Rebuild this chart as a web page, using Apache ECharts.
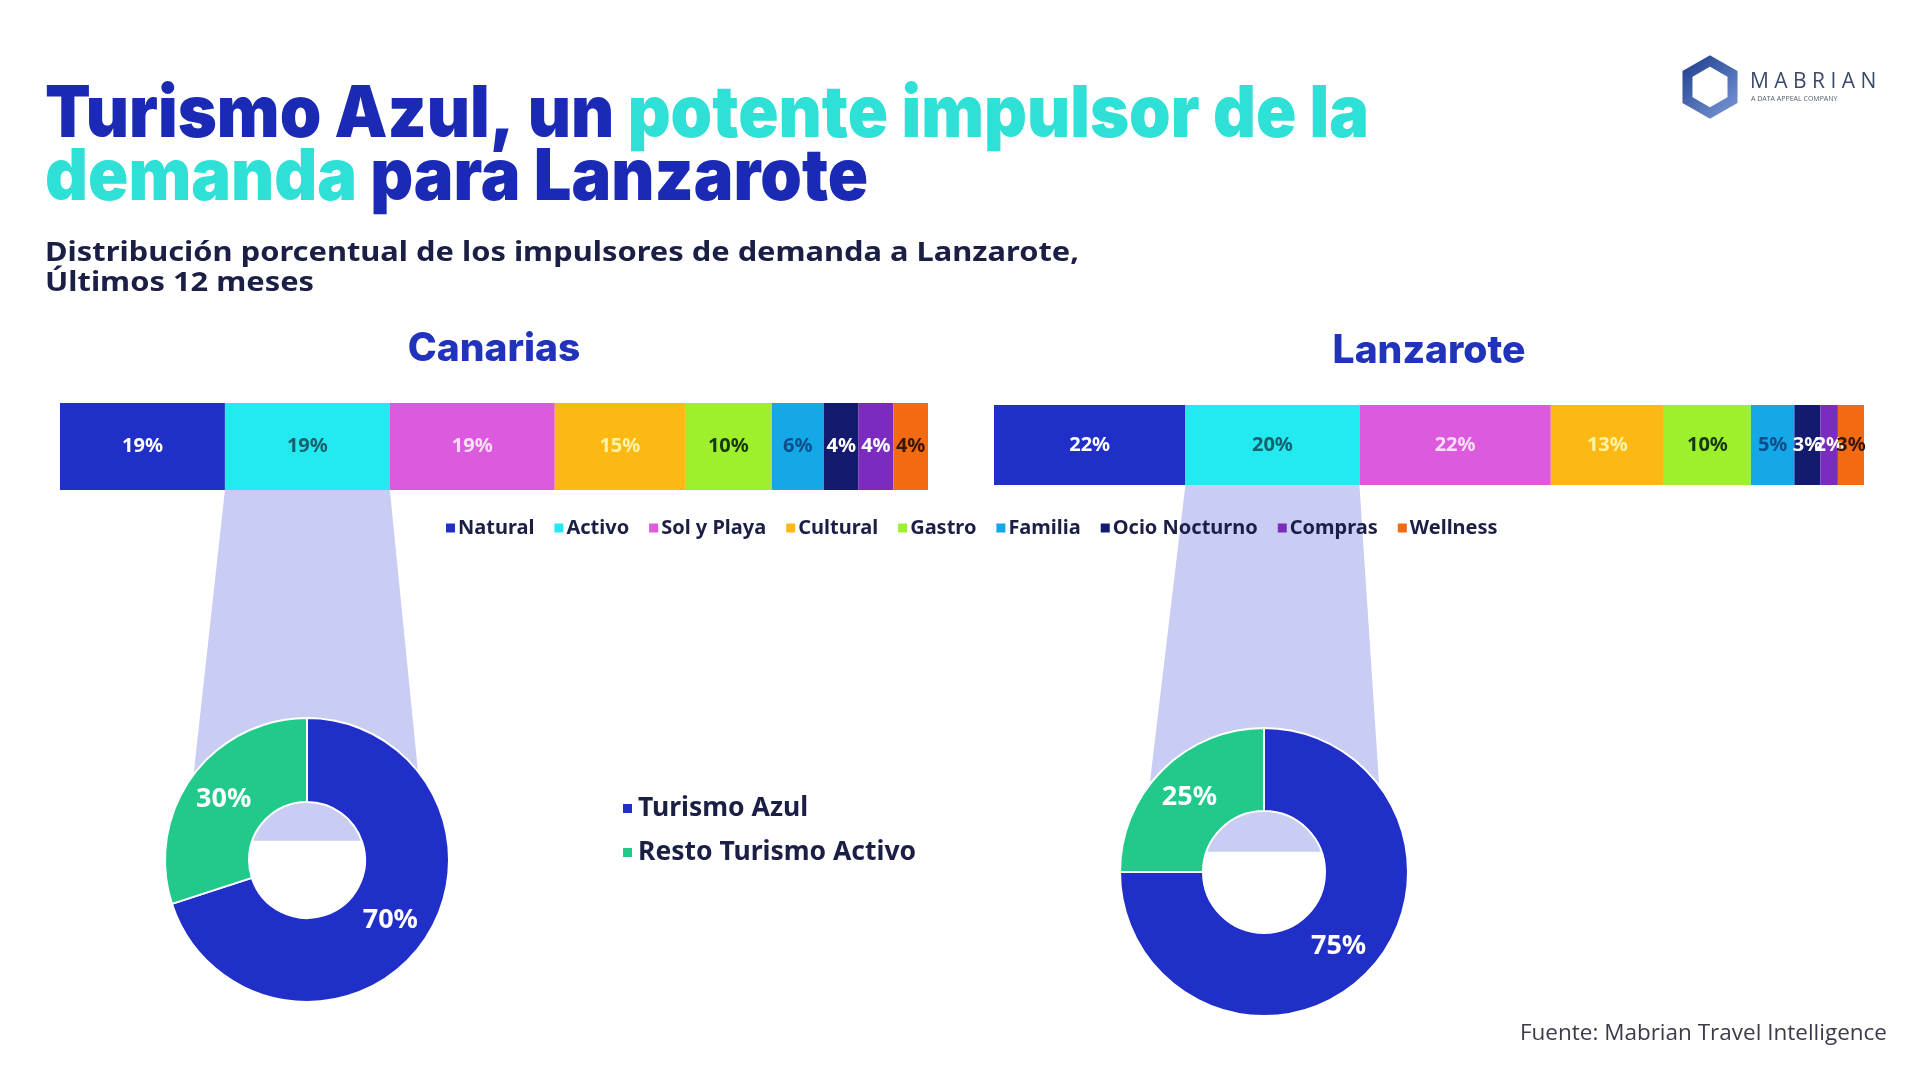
<!DOCTYPE html>
<html>
<head>
<meta charset="utf-8">
<script src="https://cdn.jsdelivr.net/npm/echarts@6.0.0/dist/echarts.min.js"></script>
<style>
html, body { margin: 0; padding: 0; background: #fff; }
#main { width: 1905px; height: 1092px; }
</style>
</head>
<body>
<div id="main"></div>
<script>
// data
var categories = ['Natural', 'Activo', 'Sol y Playa', 'Cultural', 'Gastro', 'Familia', 'Ocio Nocturno', 'Compras', 'Wellness'];
var canariasValues = [19, 19, 19, 15, 10, 6, 4, 4, 4];
var lanzaroteValues = [22, 20, 22, 13, 10, 5, 3, 2, 3];
var regions = ['Canarias', 'Lanzarote'];
var donutNames = ['Turismo Azul', 'Resto Turismo Activo'];
var canariasDonut = [70, 30];
var lanzaroteDonut = [75, 25];

var colors = ['#1f2fc8', '#22eaf0', '#dc5ade', '#fdb913', '#9ef02c', '#15a8e8', '#141a6e', '#7b2cbf', '#f26a11'];
var labelColors = ['#ffffff', '#17606e', '#fbe0f6', '#fff3a8', '#15380c', '#0c4d8a', '#ffffff', '#ffffff', '#3a1500'];
var donutColors = ['#1f2fc8', '#21c98a'];
var navy = '#1c1f45';

// layout
var bars = [
  { left: 60, top: 403, width: 868, height: 87 },
  { left: 994, top: 405, width: 870, height: 80 }
];
var donuts = [
  { center: [307, 860], radius: [58, 142] },
  { center: [1264, 872], radius: [61, 144] }
];

var chart = echarts.init(document.getElementById('main'));

function fitScale(font, text, target) {
  var ctx = document.createElement('canvas').getContext('2d');
  ctx.font = font;
  return target / ctx.measureText(text).width;
}

var barValues = [canariasValues, lanzaroteValues];
var donutValues = [canariasDonut, lanzaroteDonut];

var series = [];
barValues.forEach(function (vals, r) {
  categories.forEach(function (cat, i) {
    series.push({
      type: 'bar',
      name: cat,
      stack: 'region' + r,
      xAxisIndex: r,
      yAxisIndex: r,
      barWidth: '100%',
      silent: true,
      data: [vals[i]],
      itemStyle: { color: colors[i] },
      label: {
        show: true,
        position: 'inside',
        formatter: '{c}%',
        color: labelColors[i],
        fontSize: 20,
        fontWeight: 'bold',
        fontFamily: 'Noto Sans'
      }
    });
  });
});
donutValues.forEach(function (vals, r) {
  series.push({
    type: 'pie',
    z: 5,
    silent: true,
    center: donuts[r].center,
    radius: donuts[r].radius,
    startAngle: 90,
    clockwise: true,
    itemStyle: { borderColor: '#ffffff', borderWidth: 2 },
    label: {
      show: true,
      position: 'inside',
      formatter: '{c}%',
      color: '#ffffff',
      fontSize: 27,
      fontWeight: 'bold',
      fontFamily: 'Noto Sans'
    },
    labelLine: { show: false },
    data: donutNames.map(function (n, j) {
      return { name: n, value: vals[j], itemStyle: { color: donutColors[j] } };
    })
  });
});

var titleFont = '900 72px Inter';
var titleScale = fitScale(titleFont, 'Turismo Azul, un potente impulsor de la', 1324);
var subFont = 'bold 27px "Noto Sans"';
var subScale = fitScale(subFont, 'Distribución porcentual de los impulsores de demanda a Lanzarote,', 1034);

// hexagon logo
var hex = [];
for (var k = 0; k < 6; k++) {
  var a = (-90 + k * 60) * Math.PI / 180;
  hex.push([1710 + 26 * Math.cos(a), 87 + 26 * Math.sin(a)]);
}

var graphics = [
  {
    type: 'text', x: 45, y: 84, scaleX: titleScale, z: 10,
    style: {
      text: '{b|Turismo Azul, un }{c|potente impulsor de la}\n{c|demanda }{b|para Lanzarote}',
      fontSize: 72, fontWeight: 900, fontFamily: 'Inter', lineHeight: 63,
      verticalAlign: 'top', align: 'left',
      rich: {
        b: { fill: '#1b2ab5', fontSize: 72, fontWeight: 900, fontFamily: 'Inter', lineHeight: 63 },
        c: { fill: '#2fe0d6', fontSize: 72, fontWeight: 900, fontFamily: 'Inter', lineHeight: 63 }
      }
    }
  },
  {
    type: 'text', x: 45, y: 238, scaleX: subScale, z: 10,
    style: {
      text: 'Distribución porcentual de los impulsores de demanda a Lanzarote,\nÚltimos 12 meses',
      fontSize: 27, fontWeight: 'bold', fontFamily: 'Noto Sans', lineHeight: 30,
      fill: navy, verticalAlign: 'top', align: 'left'
    }
  },
  {
    type: 'text', x: 1887, y: 1034, z: 10,
    style: {
      text: 'Fuente: Mabrian Travel Intelligence',
      fontSize: 22.5, fontFamily: 'Open Sans', fill: '#3b3b4a',
      align: 'right', verticalAlign: 'middle'
    }
  },
  {
    type: 'polygon', z: 10,
    shape: { points: hex },
    style: {
      fill: 'none', lineWidth: 10, lineJoin: 'miter',
      stroke: {
        type: 'linear', x: 0, y: 0, x2: 1, y2: 1,
        colorStops: [{ offset: 0, color: '#1c3a8c' }, { offset: 1, color: '#7d9bd8' }]
      }
    }
  },
  {
    type: 'text', x: 1750, y: 82, z: 10,
    style: {
      text: 'M A B R I A N', fontSize: 21, fontFamily: 'Open Sans',
      fill: '#3c4a6b', verticalAlign: 'middle', align: 'left'
    }
  },
  {
    type: 'text', x: 1751, y: 99, z: 10,
    style: {
      text: 'A DATA APPEAL COMPANY', fontSize: 7, fontFamily: 'Open Sans',
      fill: '#556070', verticalAlign: 'middle', align: 'left'
    }
  }
];
regions.forEach(function (name, r) {
  graphics.push({
    type: 'text', z: 10,
    x: bars[r].left + bars[r].width / 2, y: bars[r].top - 54,
    style: {
      text: name, fontSize: 39, fontWeight: 800, fontFamily: 'Inter',
      fill: '#2233bb', align: 'center', verticalAlign: 'middle'
    }
  });
});

chart.setOption({
  backgroundColor: '#ffffff',
  animation: false,
  grid: bars.map(function (b) {
    return { left: b.left, top: b.top, width: b.width, height: b.height };
  }),
  xAxis: bars.map(function (b, r) {
    return { type: 'value', gridIndex: r, min: 0, max: 100, show: false };
  }),
  yAxis: bars.map(function (b, r) {
    return { type: 'category', gridIndex: r, data: [regions[r]], show: false };
  }),
  legend: [
    {
      data: categories,
      left: 441, top: 513,
      icon: 'rect', itemWidth: 9, itemHeight: 9, itemGap: 20,
      selectedMode: false,
      textStyle: { fontSize: 20, fontWeight: 'bold', color: navy, fontFamily: 'Noto Sans', padding: [0, 0, 0, -2] }
    },
    {
      data: donutNames,
      orient: 'vertical',
      left: 616, top: 790,
      icon: 'rect', itemWidth: 11, itemHeight: 11, itemGap: 17,
      selectedMode: false,
      textStyle: { fontSize: 26.5, fontWeight: 'bold', color: navy, fontFamily: 'Noto Sans' }
    }
  ],
  graphic: graphics,
  series: series
});

// funnel from the "Activo" segment down into each donut
var funnels = barValues.map(function (vals, r) {
  var x0 = chart.convertToPixel({ xAxisIndex: r }, vals[0]);
  var x1 = chart.convertToPixel({ xAxisIndex: r }, vals[0] + vals[1]);
  var yTop = bars[r].top + bars[r].height;
  var c = donuts[r].center, rad = donuts[r].radius;
  var yBot = c[1] - rad[0] * 0.33;
  return {
    type: 'polygon', id: 'funnel' + r, z: 1,
    shape: { points: [[x0, yTop], [x1, yTop], [c[0] + rad[1] * 0.83, yBot], [c[0] - rad[1] * 0.85, yBot]] },
    style: { fill: '#c9ccf3' }
  };
});
chart.setOption({ graphic: funnels });
</script>
</body>
</html>
